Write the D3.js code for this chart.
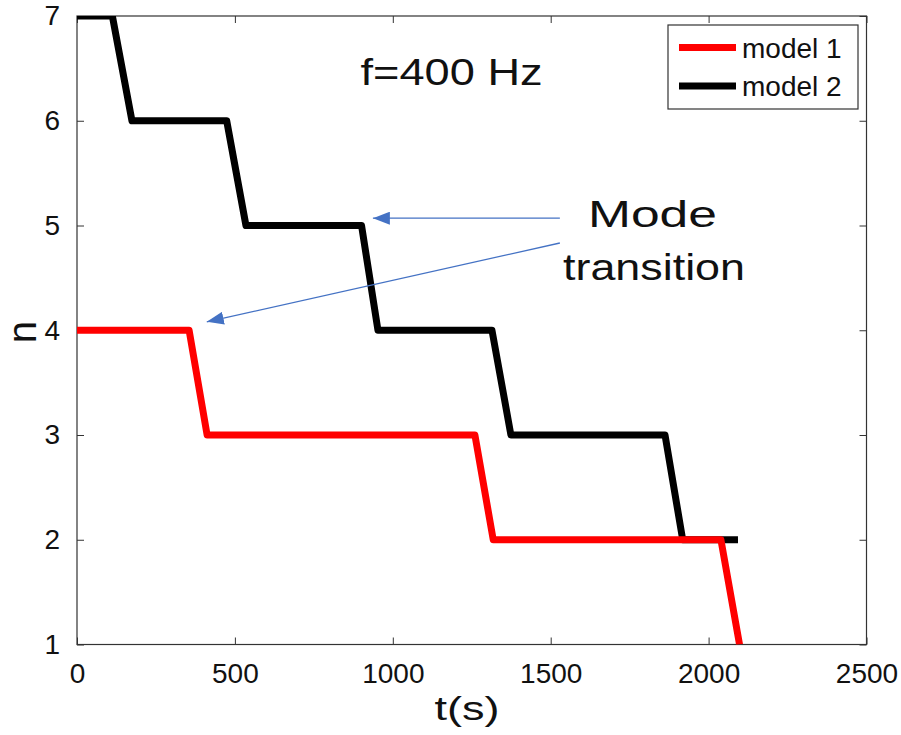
<!DOCTYPE html>
<html>
<head>
<meta charset="utf-8">
<script src="https://d3js.org/d3.v7.min.js"></script>
<style>
  body { margin: 0; background: #fff; }
  text { font-family: "Liberation Sans", Arial, sans-serif; fill: #111; }
</style>
</head>
<body>
<div id="chart"></div>
<script>
// values
const model1T = [0, 355, 412, 1260, 1318, 2039, 2098];
const model1N = [4, 4, 3, 3, 2, 2, 1];
const model2T = [0, 112, 174, 474, 535, 901, 953, 1314, 1374, 1862, 1918, 2093];
const model2N = [7, 7, 6, 6, 5, 5, 4, 4, 3, 3, 2, 2];
const xTicks = [0, 500, 1000, 1500, 2000, 2500];
const yTicks = [1, 2, 3, 4, 5, 6, 7];
const seriesNames = ["model 1", "model 2"];
const seriesColors = ["#ff0000", "#000000"];

const margin = {top: 16, right: 34.5, bottom: 90.5, left: 77},
    width = 901 - margin.left - margin.right,
    height = 735 - margin.top - margin.bottom;

const svg = d3.select("#chart")
  .append("svg")
    .attr("width", 901)
    .attr("height", 735);

const g = svg.append("g")
    .attr("transform", `translate(${margin.left},${margin.top})`);

const x = d3.scaleLinear().domain([0, 2500]).range([0, width]);
const y = d3.scaleLinear().domain([1, 7]).range([height, 0]);

// clip lines to the axes box
svg.append("defs").append("clipPath").attr("id", "clip")
  .append("rect").attr("width", width).attr("height", height);

// arrow head marker (tip at the line end)
svg.select("defs").append("marker")
    .attr("id", "head")
    .attr("viewBox", "0 0 17 13")
    .attr("refX", 17).attr("refY", 6.5)
    .attr("markerWidth", 17).attr("markerHeight", 13)
    .attr("markerUnits", "userSpaceOnUse")
    .attr("orient", "auto")
  .append("path")
    .attr("d", "M0,0 L17,6.5 L0,13 Z")
    .attr("fill", "#4472c4");

// axes with inward ticks on all four sides
const axisColor = "#333";
function styleAxis(sel) {
  sel.select(".domain").remove();
  sel.selectAll(".tick line").attr("stroke", axisColor);
  sel.selectAll(".tick text").style("font-size", "28px").attr("fill", "#111");
}

g.append("g")
    .attr("transform", `translate(0,${height})`)
    .call(d3.axisBottom(x).tickValues(xTicks).tickSize(-7).tickPadding(19).tickFormat(d3.format("d")))
    .call(styleAxis);
g.append("g")
    .call(d3.axisTop(x).tickValues(xTicks).tickSize(-7).tickFormat(""))
    .call(styleAxis);
g.append("g")
    .call(d3.axisLeft(y).tickValues(yTicks).tickSize(-7).tickPadding(17).tickFormat(d3.format("d")))
    .call(styleAxis);
g.append("g")
    .attr("transform", `translate(${width},0)`)
    .call(d3.axisRight(y).tickValues(yTicks).tickSize(-7).tickFormat(""))
    .call(styleAxis);

g.append("rect")
    .attr("width", width).attr("height", height)
    .attr("fill", "none").attr("stroke", axisColor).attr("stroke-width", 1.2);

// the two step lines
const series = [
  model1T.map((t, i) => ({t: t, n: model1N[i]})),
  model2T.map((t, i) => ({t: t, n: model2N[i]}))
];
const line = d3.line().x(d => x(d.t)).y(d => y(d.n));

g.append("g").attr("clip-path", "url(#clip)")
  .selectAll("path")
  .data([series[1], series[0]])
  .enter().append("path")
    .attr("d", line)
    .attr("fill", "none")
    .attr("stroke", (d, i) => i === 0 ? seriesColors[1] : seriesColors[0])
    .attr("stroke-width", 7)
    .attr("stroke-linejoin", "round");

// annotations (data coordinates)
g.append("text")
    .attr("x", x(898)).attr("y", y(6.34))
    .attr("textLength", 182).attr("lengthAdjust", "spacingAndGlyphs")
    .style("font-size", "37px")
    .text("f=400 Hz");

g.append("text")
    .attr("x", x(1618)).attr("y", y(4.99))
    .attr("textLength", 129).attr("lengthAdjust", "spacingAndGlyphs")
    .style("font-size", "37px")
    .text("Mode");
g.append("text")
    .attr("x", x(1539)).attr("y", y(4.48))
    .attr("textLength", 182).attr("lengthAdjust", "spacingAndGlyphs")
    .style("font-size", "37px")
    .text("transition");

const arrows = [
  {t0: 1529, n0: 5.07, t1: 937, n1: 5.07},
  {t0: 1529, n0: 4.833, t1: 411, n1: 4.08}
];
g.selectAll(".arrow")
  .data(arrows)
  .enter().append("line")
    .attr("class", "arrow")
    .attr("x1", d => x(d.t0)).attr("y1", d => y(d.n0))
    .attr("x2", d => x(d.t1)).attr("y2", d => y(d.n1))
    .attr("stroke", "#4472c4")
    .attr("stroke-width", 1.3)
    .attr("marker-end", "url(#head)");

// axis labels
svg.append("text")
    .attr("x", 467).attr("y", 720)
    .attr("text-anchor", "middle")
    .attr("textLength", 65).attr("lengthAdjust", "spacingAndGlyphs")
    .style("font-size", "34px")
    .text("t(s)");

svg.append("text")
    .attr("transform", "translate(36,332) rotate(-90)")
    .attr("text-anchor", "middle")
    .style("font-size", "40px")
    .text("n");

// legend
const legend = svg.append("g");
legend.append("rect")
    .attr("x", 668).attr("y", 25).attr("width", 190).attr("height", 84)
    .attr("fill", "#fff").attr("stroke", axisColor).attr("stroke-width", 1.2);
const items = legend.selectAll(".item")
  .data(seriesNames)
  .enter().append("g")
    .attr("transform", (d, i) => `translate(0,${47.5 + i * 38.5})`);
items.append("line")
    .attr("x1", 679).attr("x2", 736)
    .attr("stroke", (d, i) => seriesColors[i])
    .attr("stroke-width", 7);
items.append("text")
    .attr("x", 742).attr("y", 10)
    .style("font-size", "28px")
    .text(d => d);
</script>
</body>
</html>
